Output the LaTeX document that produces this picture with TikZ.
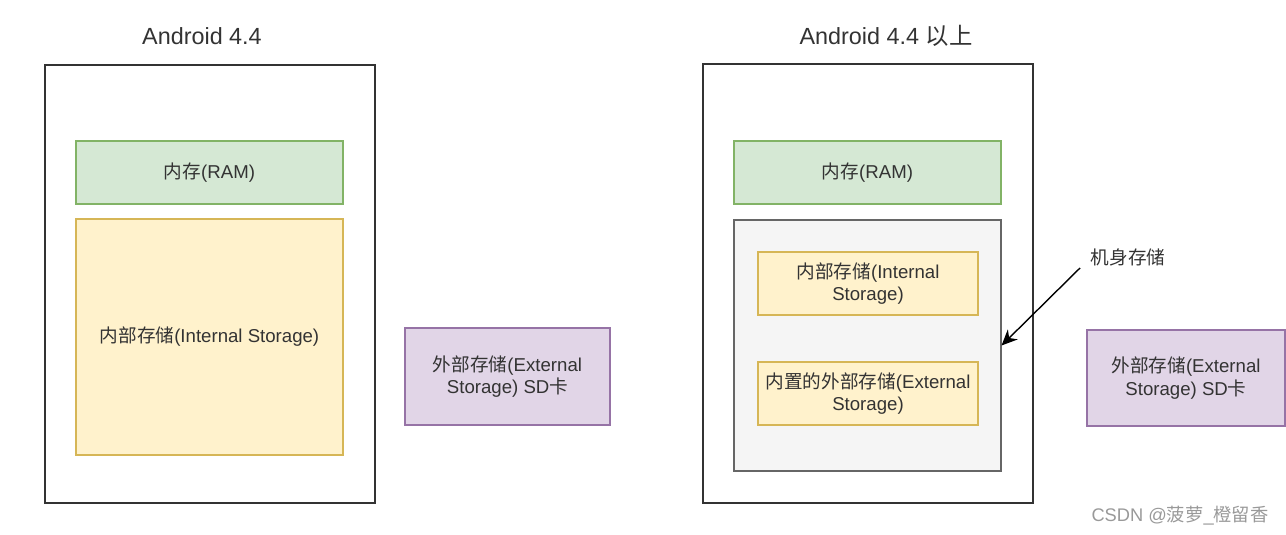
\documentclass[tikz,border=0pt]{standalone}
\usepackage{fontspec}
\setmainfont{Liberation Sans}
\newfontfamily\cjk{Noto Sans CJK SC}
\newcommand{\zh}[1]{{\cjk #1}}
\usetikzlibrary{arrows.meta}
\definecolor{ramfill}{HTML}{D5E8D4}
\definecolor{ramline}{HTML}{82B366}
\definecolor{romfill}{HTML}{FFF2CC}
\definecolor{romline}{HTML}{D6B656}
\definecolor{sdfill}{HTML}{E1D5E7}
\definecolor{sdline}{HTML}{9673A6}
\definecolor{bodyfill}{HTML}{F5F5F5}
\definecolor{bodyline}{HTML}{666666}
\definecolor{txt}{HTML}{333333}
\begin{document}
\begin{tikzpicture}[font=\fontsize{10.6}{13}\selectfont, text=txt]

    \tikzset{
      phone/.style={
        draw=txt,
        line width=0.9pt,
        fill=white,
      },
      ram/.style={
        draw=ramline,
        fill=ramfill,
        line width=0.6pt,
        minimum width=5.34cm,
        minimum height=1.26cm,
      },
      rom/.style={
        draw=romline,
        fill=romfill,
        line width=0.6pt,
        align=center,
      },
      sdcard/.style={
        draw=sdline,
        fill=sdfill,
        line width=0.6pt,
        align=center,
      },
      title/.style={
        font=\fontsize{13.3}{16}\selectfont,
      },
    }
    \useasboundingbox (0,0) rectangle (25.72,-10.68);

	% Android 4.4
	\node[title] (titleL) at (4.04,-0.72) {Android 4.4};
	\node[phone, minimum width=6.6cm, minimum height=8.76cm] (phoneL) at (4.2,-5.68) {};
	\node[ram] (ramL) at (4.19,-3.45) {\zh{内存}(RAM)};
	\node[rom, minimum width=5.34cm, minimum height=4.72cm] (romL) at (4.19,-6.74) {\zh{内部存储}(Internal Storage)};
	\node[sdcard, minimum width=4.1cm, minimum height=1.94cm] (sdL) at (10.15,-7.53) {\zh{外部存储}(External\\Storage) SD\zh{卡}};

	% Android 4.4 以上
	\node[title] (titleR) at (17.72,-0.72) {Android 4.4 \zh{以上}};
	\node[phone, minimum width=6.6cm, minimum height=8.78cm] (phoneR) at (17.36,-5.67) {};
	\node[ram] (ramR) at (17.35,-3.45) {\zh{内存}(RAM)};
	\node[draw=bodyline, fill=bodyfill, line width=0.6pt, minimum width=5.34cm, minimum height=5.02cm] (body) at (17.35,-6.91) {};
	\node[rom, minimum width=4.4cm, minimum height=1.26cm] (internal) at (17.36,-5.67) {\zh{内部存储}(Internal\\Storage)};
	\node[rom, minimum width=4.4cm, minimum height=1.26cm] (emulated) at (17.36,-7.87) {\zh{内置的外部存储}(External\\Storage)};
	\node[sdcard, minimum width=3.96cm, minimum height=1.92cm] (sdR) at (23.72,-7.56) {\zh{外部存储}(External\\Storage) SD\zh{卡}};

	\node (bodylabel) at (22.56,-5.14) {\zh{机身存储}};
	\coordinate (tail) at (21.6,-5.36);
	\draw[line width=0.8pt, -{Stealth[length=9pt,width=8pt]}] (tail) -- (body.east);

	\node[text=black!40, font=\fontsize{10.4}{12}\selectfont] (mark) at (23.6,-10.32) {CSDN @\zh{菠萝}\_\zh{橙留香}};

\end{tikzpicture}
\end{document}
